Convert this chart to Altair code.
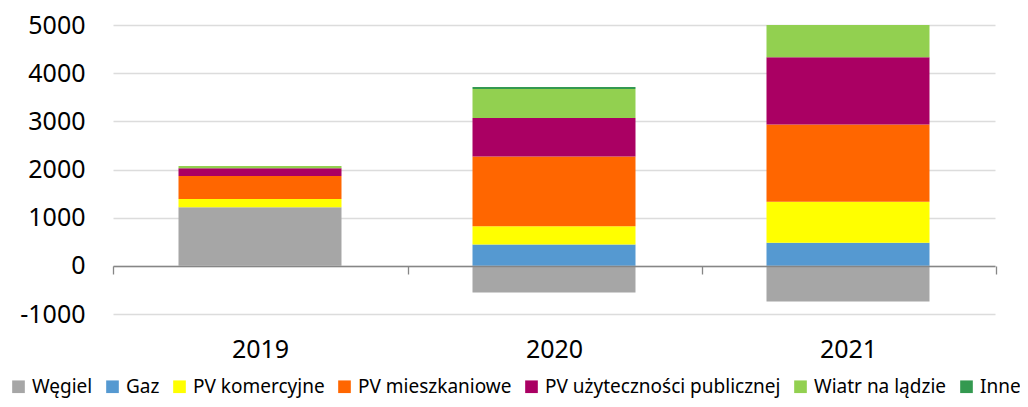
import altair as alt
import pandas as pd

years = ["2019", "2020", "2021"]
series = ["Węgiel", "Gaz", "PV komercyjne", "PV mieszkaniowe",
          "PV użyteczności publicznej", "Wiatr na lądzie", "Inne"]
colors = ["#a6a6a6", "#5599d1", "#ffff00", "#ff6600", "#aa0063", "#92d050", "#339950"]

wegiel = [1218, -554, -741]
gaz = [0, 442, 477]
pv_kom = [172, 381, 853]
pv_mieszk = [477, 1445, 1606]
pv_uzyt = [160, 803, 1392]
wiatr = [48, 601, 672]
inne = [0, 42, 0]

values = [wegiel, gaz, pv_kom, pv_mieszk, pv_uzyt, wiatr, inne]
rows = []
for i, (name, vals) in enumerate(zip(series, values)):
    for y, v in zip(years, vals):
        rows.append({"Rok": y, "Seria": name, "Wartość": v, "order": i})
df = pd.DataFrame(rows)

FONT = "Noto Sans"

chart = alt.Chart(df).mark_bar(clip=True).encode(
    x=alt.X("Rok:N", sort=years, title=None,
            scale=alt.Scale(paddingInner=0.4456, paddingOuter=0.2228),
            axis=alt.Axis(offset=-48, domain=True, domainColor="#868686", domainWidth=1.3,
                          ticks=True, tickColor="#868686", tickSize=8, tickWidth=1.3,
                          bandPosition=1.81, tickExtra=True, tickOffset=-66, grid=False,
                          labelOffset=66,
                          labelAngle=0, labelFontSize=25, labelFont=FONT, labelColor="#000000",
                          labelBaseline="middle", labelPadding=75, zindex=1)),
    y=alt.Y("Wartość:Q", stack="zero", title=None,
            scale=alt.Scale(domain=[-1000, 5000], nice=False, zero=False),
            axis=alt.Axis(values=[-1000, 0, 1000, 2000, 3000, 4000, 5000], domain=False,
                          ticks=False, grid=True, gridColor="#dcdcdc", gridWidth=1.3,
                          labelFontSize=25, labelFont=FONT, labelColor="#000000",
                          labelPadding=28, labelExpr="'' + datum.value")),
    color=alt.Color("Seria:N", scale=alt.Scale(domain=series, range=colors),
                    legend=alt.Legend(title=None, orient="none", direction="horizontal",
                                      legendX=-104, legendY=352, symbolType="square",
                                      symbolSize=160, symbolStrokeWidth=0, labelFontSize=19,
                                      labelFont=FONT, labelColor="#000000", labelOffset=4,
                                      columnPadding=10, padding=0, columns=7,
                                      labelLimit=400)),
    order=alt.Order("order:Q", sort="ascending"),
).properties(
    width=882, height=289,
    autosize=alt.AutoSizeParams(type="none"),
    padding={"left": 105, "top": 17, "right": 25, "bottom": 85},
).configure_view(stroke=None)

chart.save("out.html", embed_options={"renderer": "svg", "actions": False})
